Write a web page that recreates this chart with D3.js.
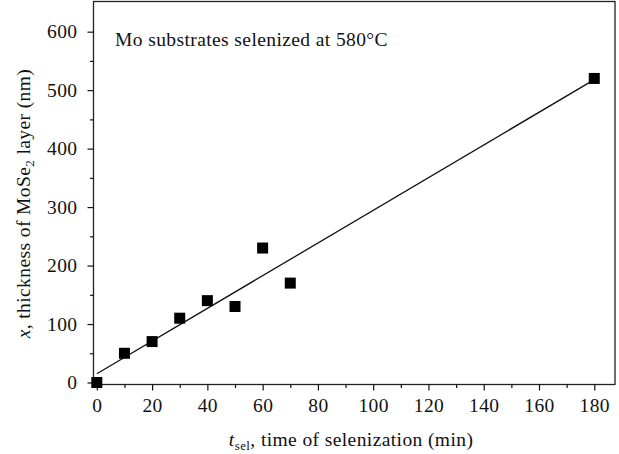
<!DOCTYPE html>
<html>
<head>
<meta charset="utf-8">
<script src="https://cdn.jsdelivr.net/npm/d3@7"></script>
<style>
  body { margin: 0; background: #fff; }
  svg { display: block; font-family: "Liberation Serif", "DejaVu Serif", serif; }
  text { letter-spacing: 0.4px; }
</style>
</head>
<body>
<script>
// measured data: selenization time (min) vs MoSe2 thickness (nm)
const timeMin = [0, 10, 20, 30, 40, 50, 60, 70, 180];
const thicknessNm = [0, 50, 70, 110, 140, 130, 230, 170, 520];

// linear fit line, endpoints
const fitX = [0, 180];
const fitY = [15, 518];

const xTicks = [0, 20, 40, 60, 80, 100, 120, 140, 160, 180];
const xMinor = [10, 30, 50, 70, 90, 110, 130, 150, 170];
const yTicks = [0, 100, 200, 300, 400, 500, 600];
const yMinor = [50, 150, 250, 350, 450, 550];

const width = 619, height = 454;
const margin = { top: 1.5, right: 4, bottom: 69.5, left: 93.5 };
const w = width - margin.left - margin.right;
const h = height - margin.top - margin.bottom;
const fs = "19.5px";

const svg = d3.select("body").append("svg")
  .attr("width", width)
  .attr("height", height);

const x = d3.scaleLinear().domain([-1.2, 187.5]).range([0, w]);
const y = d3.scaleLinear().domain([-3.4, 651.6]).range([h, 0]);

const g = svg.append("g")
  .attr("transform", `translate(${margin.left},${margin.top})`);

// frame
g.append("rect")
  .attr("width", w).attr("height", h)
  .attr("fill", "none")
  .attr("stroke", "#222")
  .attr("stroke-width", 1.3);

// x axis
const xAxis = g.append("g").attr("transform", `translate(0,${h})`);
xAxis.call(d3.axisBottom(x).tickValues(xTicks).tickSize(6).tickPadding(8));
xAxis.append("g").call(d3.axisBottom(x).tickValues(xMinor).tickSize(3.5).tickFormat(""));
xAxis.selectAll(".domain").remove();

// y axis
const yAxis = g.append("g");
yAxis.call(d3.axisLeft(y).tickValues(yTicks).tickSize(6).tickPadding(10));
yAxis.append("g").call(d3.axisLeft(y).tickValues(yMinor).tickSize(3.5).tickFormat(""));
yAxis.selectAll(".domain").remove();

svg.selectAll(".tick line").attr("stroke", "#111").attr("stroke-width", 1.2);
svg.selectAll(".tick text")
  .attr("fill", "#111")
  .style("font-size", fs)
  .style("font-family", "Liberation Serif, serif");

// fit line
g.append("line")
  .attr("x1", x(fitX[0])).attr("y1", y(fitY[0]))
  .attr("x2", x(fitX[1])).attr("y2", y(fitY[1]))
  .attr("stroke", "#111")
  .attr("stroke-width", 1.3);

// squares
const sq = 11;
g.selectAll("rect.pt")
  .data(timeMin)
  .enter()
  .append("rect")
  .attr("class", "pt")
  .attr("x", (d) => x(d) - sq / 2)
  .attr("y", (d, i) => y(thicknessNm[i]) - sq / 2)
  .attr("width", sq)
  .attr("height", sq)
  .attr("fill", "#000");

// inner label
svg.append("text")
  .attr("x", 115)
  .attr("y", 46)
  .style("font-size", fs)
  .attr("fill", "#111")
  .text("Mo substrates selenized at 580°C");

// x axis title
const xt = svg.append("text")
  .attr("x", margin.left + x(92))
  .attr("y", 446)
  .attr("text-anchor", "middle")
  .style("font-size", fs)
  .attr("fill", "#111");
xt.append("tspan").style("font-style", "italic").text("t");
xt.append("tspan").attr("dy", 4).style("font-size", "13px").text("sel");
xt.append("tspan").attr("dy", -4).text(", time of selenization (min)");

// y axis title
const yt = svg.append("text")
  .attr("transform", `translate(30,${margin.top + y(306)}) rotate(-90)`)
  .attr("text-anchor", "middle")
  .style("font-size", fs)
  .attr("fill", "#111");
yt.append("tspan").style("font-style", "italic").text("x");
yt.append("tspan").text(", thickness of MoSe");
yt.append("tspan").attr("dy", 4).style("font-size", "13px").text("2");
yt.append("tspan").attr("dy", -4).text(" layer (nm)");
</script>
</body>
</html>
